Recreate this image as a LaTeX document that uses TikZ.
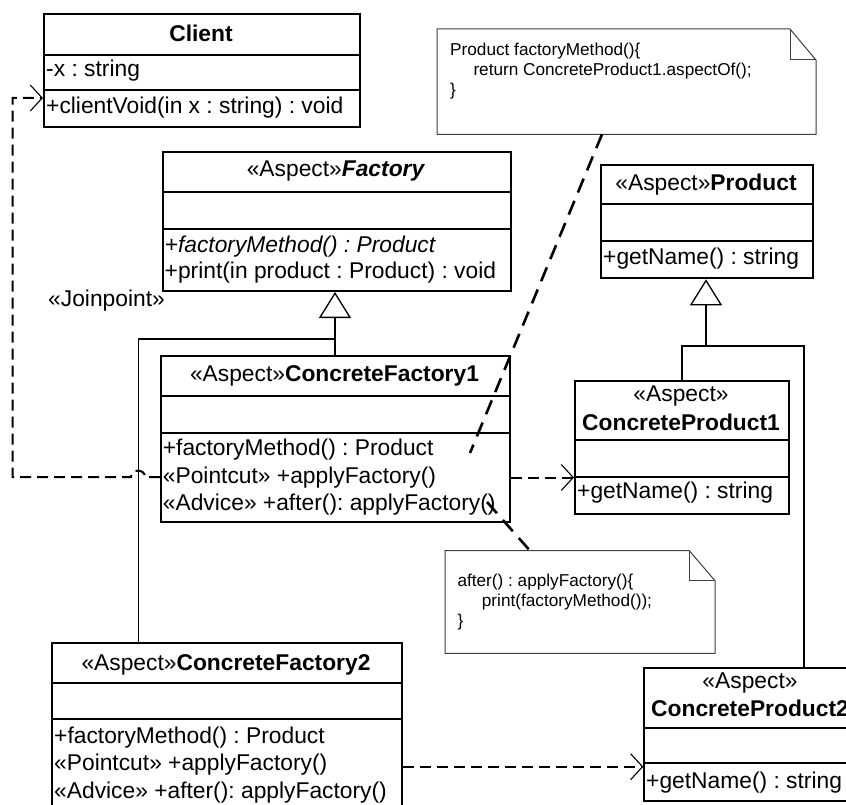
\documentclass[tikz,border=0pt]{standalone}
\usepackage{fontspec}
\setmainfont{Liberation Sans}
\usetikzlibrary{arrows.meta}
\frenchspacing
\newcommand\fsmain{\fontsize{22.8}{27}\selectfont}
\newcommand\fsnote{\fontsize{17.2}{21}\selectfont}
\begin{document}
\frenchspacing
\begin{tikzpicture}[x=1pt,y=-1pt,
  umlbox/.style={draw, line width=2pt, inner sep=0pt, anchor=north west, fill=white},
  divider/.style={line width=2pt},
  txt/.style={inner sep=0pt, anchor=base west, font=\fsmain},
  ctxt/.style={inner sep=0pt, anchor=base, font=\fsmain},
  ntxt/.style={inner sep=0pt, anchor=base west, font=\fsnote},
  dep/.style={line width=2pt, dash pattern=on 11pt off 6pt,
    -{Straight Barb[length=12pt, width=26pt, line width=1.1pt]}},
  gen/.style={line width=1.1pt},
  gentip/.style={-{Triangle[open, length=26pt, width=32pt, line width=1.3pt]}},
  notelink/.style={line width=2.6pt, dash pattern=on 15pt off 9pt},
  noteline/.style={line width=1pt, draw=black!75}
]
\useasboundingbox (0,0) rectangle (846,805);
\fill[white] (0,0) rectangle (846,805);

% ---------------- notes ----------------
\draw[noteline] (437,29) -- (790,29) -- (816,60) -- (816,134.3) -- (437,134.3) -- cycle;
\draw[noteline] (790,29) -- (790,60) -- (816,60);
\node[ntxt] (n1a) at (450,56) {Product factoryMethod()\{};
\node[ntxt] (n1b) at (473.3,76) {return ConcreteProduct1.aspectOf();};
\node[ntxt] (n1c) at (450,96) {\}};
\coordinate (note1) at (602,134.3);

\draw[noteline] (445,550.7) -- (689.3,550.7) -- (715,580.7) -- (715,653.3) -- (445,653.3) -- cycle;
\draw[noteline] (689.3,550.7) -- (689.3,580.7) -- (715,580.7);
\node[ntxt] (n2a) at (457.3,586) {after() : applyFactory()\{};
\node[ntxt] (n2b) at (481.7,606.7) {print(factoryMethod());};
\node[ntxt] (n2c) at (457.3,626.7) {\}};
\coordinate (note2) at (530,550.7);

% ---------------- Client ----------------
\node[umlbox, minimum width=316pt, minimum height=113pt] (client) at (43,13) {};
\draw[divider] (43,55) -- (359,55);
\draw[divider] (43,90) -- (359,90);
\node[ctxt] (clientT) at (201,41.7) {\bfseries Client};
\node[txt] (clientA) at (46,77) {-x : string};
\node[txt] (clientO) at (46,113.3) {+clientVoid(in x : string) : void};

% ---------------- Factory ----------------
\node[umlbox, minimum width=348pt, minimum height=139pt] (factory) at (162,151) {};
\draw[divider] (162,192.3) -- (510,192.3);
\draw[divider] (162,229.3) -- (510,229.3);
\node[ctxt] (factoryT) at (336,177) {«Aspect»\textbf{\textit{Factory}}};
\node[txt] (factoryO1) at (164.5,252) {\itshape +factoryMethod() : Product};
\node[txt] (factoryO2) at (164.5,278.5) {+print(in product : Product) : void};

\node[txt] (joinpoint) at (48,306.7) {«Joinpoint»};

% ---------------- Product ----------------
\node[umlbox, minimum width=212pt, minimum height=113.3pt] (product) at (600,164) {};
\draw[divider] (600,204.3) -- (812,204.3);
\draw[divider] (600,240.7) -- (812,240.7);
\node[ctxt] (productT) at (706,190.7) {«Aspect»\textbf{Product}};
\node[txt] (productO) at (603,264.3) {+getName() : string};

% ---------------- ConcreteFactory1 ----------------
\node[umlbox, minimum width=349pt, minimum height=165.7pt] (cf1) at (160,355) {};
\draw[divider] (160,395.7) -- (509,395.7);
\draw[divider] (160,432.7) -- (509,432.7);
\node[ctxt] (cf1T) at (334.5,381.7) {«Aspect»\textbf{ConcreteFactory1}};
\node[txt] (cf1O1) at (162.7,455) {+factoryMethod() : Product};
\node[txt] (cf1O2) at (162.7,483.3) {«Pointcut» +applyFactory()};
\node[txt] (cf1O3) at (162.7,510) {«Advice» +after(): applyFactory()};

% ---------------- ConcreteProduct1 ----------------
\node[umlbox, minimum width=214pt, minimum height=132.7pt] (cp1) at (574,380) {};
\draw[divider] (574,440) -- (788,440);
\draw[divider] (574,476.7) -- (788,476.7);
\node[ctxt] (cp1S) at (681,401.7) {«Aspect»};
\node[ctxt] (cp1T) at (681,430) {\bfseries ConcreteProduct1};
\node[txt] (cp1O) at (577,498.3) {+getName() : string};

% ---------------- ConcreteFactory2 ----------------
\node[umlbox, minimum width=350pt, minimum height=166.7pt] (cf2) at (51,642.3) {};
\draw[divider] (51,682.7) -- (401,682.7);
\draw[divider] (51,719.3) -- (401,719.3);
\node[ctxt] (cf2T) at (226,670) {«Aspect»\textbf{ConcreteFactory2}};
\node[txt] (cf2O1) at (54,743.3) {+factoryMethod() : Product};
\node[txt] (cf2O2) at (54,770) {«Pointcut» +applyFactory()};
\node[txt] (cf2O3) at (54,798.3) {«Advice» +after(): applyFactory()};

% ---------------- ConcreteProduct2 ----------------
\node[umlbox, minimum width=213.7pt, minimum height=133.3pt] (cp2) at (643.3,666.7) {};
\draw[divider] (643.3,728.3) -- (857,728.3);
\draw[divider] (643.3,763.3) -- (857,763.3);
\node[ctxt] (cp2S) at (750,688.3) {«Aspect»};
\node[ctxt] (cp2T) at (750,716.7) {\bfseries ConcreteProduct2};
\node[txt] (cp2O) at (646,788.3) {+getName() : string};

% ---------------- generalizations ----------------
\coordinate (j1) at (335,339);
\coordinate (j2) at (706,346);
\draw[gen, gentip] (cf1.north -| j1) -- (j1 |- factory.south);
\draw[gen] ([xshift=87.3pt]cf2.north west) |- (j1);
\draw[gen, gentip] (cp1.north) |- (j2) -- (j2 |- product.south);
\draw[gen] ([xshift=160.7pt]cp2.north west) |- (j2);

% ---------------- dependencies ----------------
\draw[dep] (cf1.west |- 0,477) -- (145,477)
  .. controls (145,468.5) and (131,468.5) .. (131,477)
  -- (12.5,477) -- (12.5,98) -- (client.west |- 0,98);
\draw[dep] (cf1.east |- 0,477.5) -- (cp1.west |- 0,477.5);
\draw[dep] (cf2.east |- 0,766.7) -- (cp2.west |- 0,766.7);

% ---------------- note links ----------------
\coordinate (cf1pin1) at (470,453);
\coordinate (cf1pin2) at (487,502);
\draw[notelink] (note1) -- (cf1pin1);
\draw[notelink] (cf1pin2) -- (note2);
\end{tikzpicture}
\end{document}
